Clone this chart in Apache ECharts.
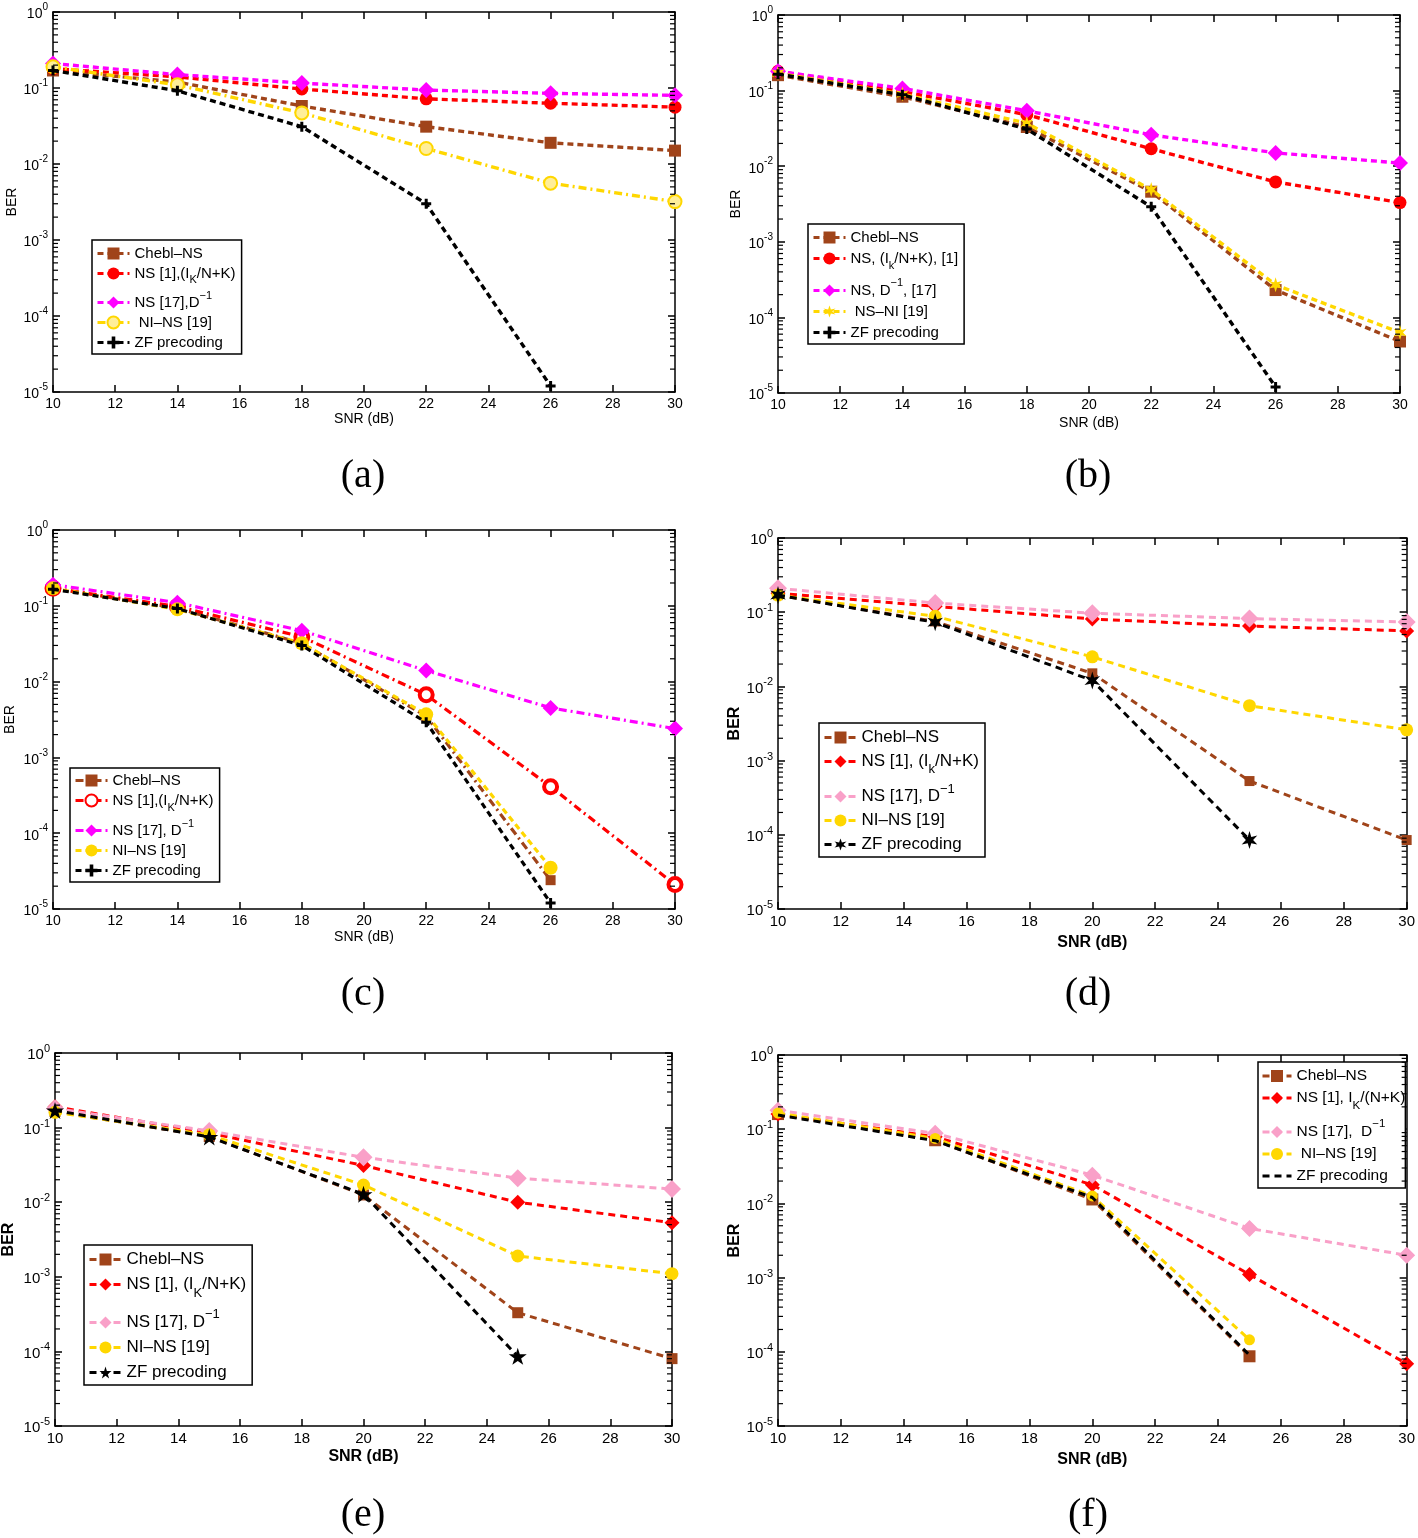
<!DOCTYPE html>
<html><head><meta charset="utf-8">
<script src="https://cdn.jsdelivr.net/npm/echarts@6/dist/echarts.min.js"></script>
<style>html,body{margin:0;padding:0;background:#fff}#c{width:1418px;height:1538px}</style>
</head><body><div id="c"></div>
<script>
// ---------------- data ----------------
const snrABC = [10, 14, 18, 22, 26, 30];
const snrDEF = [10, 15, 20, 25, 30];
const minorTickValues = [2e-5,3e-5,4e-5,5e-5,6e-5,7e-5,8e-5,9e-5,2e-4,3e-4,4e-4,5e-4,6e-4,7e-4,8e-4,9e-4,
  2e-3,3e-3,4e-3,5e-3,6e-3,7e-3,8e-3,9e-3,0.02,0.03,0.04,0.05,0.06,0.07,0.08,0.09,0.2,0.3,0.4,0.5,0.6,0.7,0.8,0.9];

// (a)
const aChebl = [0.17, 0.12, 0.058, 0.031, 0.019, 0.015];
const aNS1   = [0.18, 0.14, 0.097, 0.072, 0.063, 0.056];
const aNS17  = [0.21, 0.15, 0.116, 0.094, 0.085, 0.080];
const aNINS  = [0.19, 0.11, 0.047, 0.016, 0.0056, 0.0032];
const aZF    = [0.17, 0.092, 0.031, 0.003, 1.2e-5];
// (b)
const bChebl = [0.16, 0.083, 0.033, 0.0046, 2.3e-4, 4.8e-5];
const bNS1   = [0.18, 0.097, 0.048, 0.017, 0.0062, 0.0033];
const bNS17  = [0.18, 0.107, 0.054, 0.026, 0.015, 0.011];
const bNSNI  = [0.17, 0.09, 0.037, 0.0049, 2.7e-4, 6.3e-5];
const bZF    = [0.165, 0.088, 0.031, 0.0029, 1.2e-5];
// (c)
const cChebl = [0.17, 0.093, 0.032, 0.0035, 2.4e-5];
const cNS1   = [0.17, 0.098, 0.039, 0.0067, 4.1e-4, 2.1e-5];
const cNS17  = [0.19, 0.11, 0.047, 0.014, 0.0045, 0.0024];
const cNINS  = [0.17, 0.09, 0.032, 0.0037, 3.5e-5];
const cZF    = [0.165, 0.092, 0.030, 0.0029, 1.2e-5];
// (d)
const dChebl = [0.17, 0.075, 0.015, 5.3e-4, 8.5e-5];
const dNS1   = [0.18, 0.12, 0.081, 0.065, 0.056];
const dNS17  = [0.21, 0.133, 0.097, 0.082, 0.074];
const dNINS  = [0.17, 0.088, 0.025, 0.0055, 0.0026];
const dZF    = [0.17, 0.073, 0.012, 8.5e-5];
// (e)
const eChebl = [0.165, 0.076, 0.0125, 3.3e-4, 8e-5];
const eNS1   = [0.19, 0.085, 0.031, 0.010, 0.0053];
const eNS17  = [0.18, 0.09, 0.040, 0.021, 0.015];
const eNINS  = [0.16, 0.08, 0.017, 0.0019, 0.0011];
const eZF    = [0.17, 0.075, 0.0128, 8.6e-5];
// (f)
const fChebl = [0.16, 0.071, 0.0113, 8.7e-5];
const fNS1   = [0.16, 0.079, 0.0178, 0.0011, 6.9e-5];
const fNS17  = [0.18, 0.088, 0.024, 0.0046, 0.002];
const fNINS  = [0.165, 0.075, 0.0126, 1.45e-4];
const fZF    = [0.155, 0.07, 0.012, 9e-5];

const legendA = ['{t|Chebl–NS}', '{tt|NS [1],(I}{sub|K}{tt|/N+K)}', '{tt|NS [17],D}{sup|−1}', '{t| NI–NS [19]}', '{t|ZF precoding}'];
const legendB = ['{t|Chebl–NS}', '{tt|NS, (I}{sub|k}{tt|/N+K), [1]}', '{tt|NS, D}{sup|−1}{tt|, [17]}', '{t| NS–NI [19]}', '{t|ZF precoding}'];
const legendC = ['{t|Chebl–NS}', '{tt|NS [1],(I}{sub|K}{tt|/N+K)}', '{tt|NS [17], D}{sup|−1}', '{t|NI–NS [19]}', '{t|ZF precoding}'];
const legendD = ['{t|Chebl–NS}', '{tt|NS [1], (I}{sub|k}{tt|/N+K)}', '{tt|NS [17], D}{sup|−1}', '{t|NI–NS [19]}', '{t|ZF precoding}'];
const legendE = ['{t|Chebl–NS}', '{tt|NS [1], (I}{sub|K}{tt|/N+K)}', '{tt|NS [17], D}{sup|−1}', '{t|NI–NS [19]}', '{t|ZF precoding}'];
const legendF = ['{t|Chebl–NS}', '{tt|NS [1], I}{sub|K}{tt|/(N+K)}', '{tt|NS [17],  D}{sup|−1}', '{t| NI–NS [19]}', '{t|ZF precoding}'];
const captions = ['(a)', '(b)', '(c)', '(d)', '(e)', '(f)'];
const xName = 'SNR (dB)';
const yName = 'BER';

// ---------------- styles ----------------
const FONT = 'Liberation Sans, Arial, Helvetica, sans-serif';
const brown = '#A0441A', red = '#FF0000', mag = '#FF00FF', yel = '#FFD700', pink = '#F9A0C8', blk = '#000000';
const PLUS = 'path://M35,0H65V35H100V65H65V100H35V65H0V35H35Z';
const STAR5 = 'path://M50,0L61,35L98,35L68,57L79,91L50,70L21,91L32,57L2,35L39,35Z';
const STAR6 = 'path://M50,0L60,32.7L93.3,25L70,50L93.3,75L60,67.3L50,100L40,67.3L6.7,75L30,50L6.7,25L40,32.7Z';
const D1 = [6, 4], DD = [8, 4, 2, 4], D2 = [7, 5];

function ser(color, dash, symbol, size, fill, bw) {
  return {color, dash, symbol, size, fill: fill || color, bw: bw || 0};
}

const panels = [
  { grid: {left: 53, top: 12, width: 622, height: 380}, x: snrABC, bold: false, fs: 14, xGap: 20, yGap: 33, lw: 3.4,
    leg: {left: 92, top: 240, fs: 15, lh: 19, lh2: 24, gap: 5, pad: [6, 6, 4, 4], iw: 32}, labels: legendA, cap: [363, 476],
    ys: [aChebl, aNS1, aNS17, aNINS, aZF],
    st: [ser(brown, D1, 'rect', 12), ser(red, D1, 'circle', 13), ser(mag, D1, 'diamond', 16),
         ser(yel, DD, 'circle', 13, '#FFEE99', 2), ser(blk, D1, PLUS, 10)] },
  { grid: {left: 778, top: 15, width: 622, height: 378}, x: snrABC, bold: false, fs: 14, xGap: 23, yGap: 35, lw: 3.4,
    leg: {left: 808, top: 224, fs: 15, lh: 20, lh2: 26, gap: 6, pad: [6, 6, 4, 4], iw: 32}, labels: legendB, cap: [1088, 476],
    ys: [bChebl, bNS1, bNS17, bNSNI, bZF],
    st: [ser(brown, D1, 'rect', 12), ser(red, D1, 'circle', 13), ser(mag, D1, 'diamond', 16),
         ser(yel, D1, STAR6, 15), ser(blk, D1, PLUS, 10)] },
  { grid: {left: 53, top: 530, width: 622, height: 379}, x: snrABC, bold: false, fs: 14, xGap: 21, yGap: 36, lw: 3.2,
    leg: {left: 70, top: 768, fs: 15, lh: 19, lh2: 25, gap: 5, pad: [5, 6, 4, 4], iw: 32}, labels: legendC, cap: [363, 994],
    ys: [cChebl, cNS1, cNS17, cNINS, cZF],
    st: [ser(brown, DD, 'rect', 10), ser(red, DD, 'circle', 13, '#FFFFFF', 4), ser(mag, DD, 'diamond', 16),
         ser(yel, D1, 'circle', 14), ser(blk, D1, PLUS, 10)] },
  { grid: {left: 778, top: 538, width: 629, height: 371}, x: snrDEF, bold: true, fs: 15, xGap: 26, yGap: 27, lw: 3,
    leg: {left: 819, top: 723, fs: 17, lh: 22, lh2: 28, gap: 7, pad: [6, 6, 4, 4], iw: 32}, labels: legendD, cap: [1088, 994],
    ys: [dChebl, dNS1, dNS17, dNINS, dZF],
    st: [ser(brown, D2, 'rect', 10), ser(red, D2, 'diamond', 15), ser(pink, D2, 'diamond', 18),
         ser(yel, D2, 'circle', 13), ser(blk, D2, STAR6, 18)] },
  { grid: {left: 53, top: 1053, width: 619, height: 373}, x: snrDEF, bold: true, fs: 15, xGap: 23, yGap: 38, lw: 3,
    leg: {left: 84, top: 1245, fs: 17, lh: 22, lh2: 30, gap: 8, pad: [6, 6, 4, 4], iw: 32}, labels: legendE, cap: [363, 1515],
    ys: [eChebl, eNS1, eNS17, eNINS, eZF],
    st: [ser(brown, D2, 'rect', 11), ser(red, D2, 'diamond', 15), ser(pink, D2, 'diamond', 18),
         ser(yel, D2, 'circle', 13), ser(blk, D2, STAR5, 18)] },
  { grid: {left: 778, top: 1055, width: 630, height: 371}, x: snrDEF, bold: true, fs: 15, xGap: 26, yGap: 27, lw: 3,
    leg: {left: 1258, top: 1062, fs: 15.5, lh: 21, lh2: 28, gap: 6, pad: [6, 0, 4, 3], iw: 29}, labels: legendF, cap: [1088, 1515],
    ys: [fChebl, fNS1, fNS17, fNINS, fZF],
    st: [ser(brown, D2, 'rect', 12), ser(red, D2, 'diamond', 15), ser(pink, D2, 'diamond', 17),
         ser(yel, D2, 'circle', 11), ser(blk, D2, 'none', 0)] }
];

function yLabel(v) {
  const e = Math.round(Math.log10(v));
  return '{b|10}{s|' + (e === 0 ? '0' : '-' + (-e)) + '}';
}

const option = { animation: false, grid: [], xAxis: [], yAxis: [], series: [], legend: [], graphic: [] };

panels.forEach((p, i) => {
  option.grid.push(Object.assign({}, p.grid));
  const axisLine = {show: true, lineStyle: {color: '#000', width: 1.5}};
  const tick = {inside: true, length: 7, lineStyle: {color: '#000', width: 1.5}};
  const fw = p.bold ? 'bold' : 'normal';
  const nfs = p.bold ? 16 : 14;
  option.xAxis.push({
    type: 'value', gridIndex: i, position: 'bottom', min: 10, max: 30, interval: 2,
    axisLine, splitLine: {show: false}, axisTick: tick,
    axisLabel: {color: '#000', fontFamily: FONT, fontSize: p.fs, margin: 5},
    name: xName, nameLocation: 'middle', nameGap: p.xGap,
    nameTextStyle: {color: '#000', fontFamily: FONT, fontSize: nfs, fontWeight: fw}
  });
  option.xAxis.push({
    type: 'value', gridIndex: i, position: 'top', min: 10, max: 30, interval: 2,
    axisLine, splitLine: {show: false}, axisTick: tick, axisLabel: {show: false}
  });
  option.yAxis.push({
    type: 'log', logBase: 10, gridIndex: i, position: 'left', min: 1e-5, max: 1,
    axisLine, splitLine: {show: false}, axisTick: tick,
    axisLabel: {color: '#000', fontFamily: FONT, margin: 5, formatter: yLabel,
      rich: {b: {fontSize: p.fs, fontFamily: FONT, color: '#000', lineHeight: 19, verticalAlign: 'bottom'},
             s: {fontSize: p.fs - 4, fontFamily: FONT, color: '#000', lineHeight: 11, verticalAlign: 'top'}}},
    name: yName, nameLocation: 'middle', nameGap: p.yGap, nameRotate: 90,
    nameTextStyle: {color: '#000', fontFamily: FONT, fontSize: nfs, fontWeight: fw}
  });
  option.yAxis.push({
    type: 'log', logBase: 10, gridIndex: i, position: 'right', min: 1e-5, max: 1,
    axisLine, splitLine: {show: false}, axisTick: tick, axisLabel: {show: false}
  });
  // minor log ticks (left & right edges) positioned through the axis scale
  option.series.push({
    type: 'custom', xAxisIndex: 2 * i, yAxisIndex: 2 * i, silent: true, z: 10, clip: false,
    data: minorTickValues.map(v => [10, v]),
    renderItem: (params, api) => {
      const v = api.value(1);
      const a = api.coord([10, v]), b = api.coord([30, v]);
      return {type: 'group', children: [
        {type: 'line', shape: {x1: a[0], y1: a[1], x2: a[0] + 5, y2: a[1]}, style: {stroke: '#000', lineWidth: 1.2}},
        {type: 'line', shape: {x1: b[0] - 5, y1: b[1], x2: b[0], y2: b[1]}, style: {stroke: '#000', lineWidth: 1.2}}
      ]};
    }
  });
  const names = [];
  const labelMap = {};
  p.ys.forEach((ys, k) => {
    const s = p.st[k];
    const nm = 'p' + i + 's' + k;
    names.push(s.symbol === 'none' ? {name: nm, itemStyle: {opacity: 0}} : nm);
    labelMap[nm] = p.labels[k];
    option.series.push({
      type: 'line', name: nm, xAxisIndex: 2 * i, yAxisIndex: 2 * i, clip: false, z: 3 + k,
      data: ys.map((v, j) => [p.x[j], v]),
      symbol: s.symbol === 'none' ? 'circle' : s.symbol, symbolSize: s.size, symbolKeepAspect: true,
      showSymbol: s.symbol !== 'none',
      lineStyle: {color: s.color, width: p.lw, type: s.dash, cap: 'butt'},
      itemStyle: {color: s.fill, borderColor: s.color, borderWidth: s.bw},
      emphasis: {disabled: true}
    });
  });
  option.legend.push({
    data: names, orient: 'vertical', left: p.leg.left, top: p.leg.top,
    padding: p.leg.pad, itemGap: p.leg.gap, itemWidth: p.leg.iw, itemHeight: 15,
    backgroundColor: '#fff', borderColor: '#000', borderWidth: 1.5, borderRadius: 0,
    selectedMode: false, lineStyle: {width: 3},
    formatter: nm => labelMap[nm],
    textStyle: {color: '#000', fontFamily: FONT, fontSize: p.leg.fs,
      rich: {
        t: {fontSize: p.leg.fs, fontFamily: FONT, color: '#000', lineHeight: p.leg.lh},
        tt: {fontSize: p.leg.fs, fontFamily: FONT, color: '#000', lineHeight: p.leg.lh2},
        sub: {fontSize: p.leg.fs - 4, fontFamily: FONT, color: '#000', lineHeight: 12, verticalAlign: 'bottom'},
        sup: {fontSize: p.leg.fs - 4, fontFamily: FONT, color: '#000', lineHeight: 12, verticalAlign: 'top'}
      }}
  });
  option.graphic.push({
    type: 'text', x: p.cap[0], y: p.cap[1],
    style: {text: captions[i], font: '40px "Liberation Serif", "Times New Roman", serif', fill: '#000',
            textAlign: 'center', textVerticalAlign: 'middle'}
  });
});

const chart = echarts.init(document.getElementById('c'), null, {renderer: 'canvas'});
chart.setOption(option);
</script>
</body></html>
